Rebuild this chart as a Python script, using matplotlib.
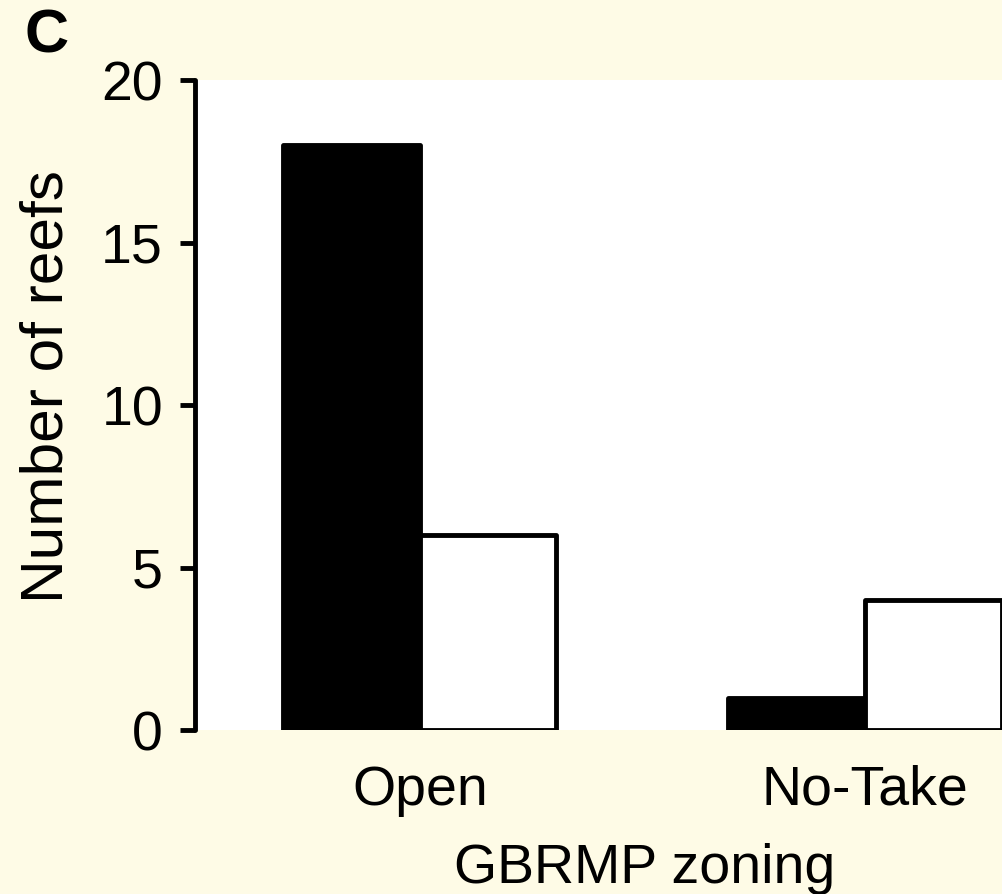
import matplotlib
matplotlib.use("Agg")
import matplotlib.pyplot as plt
import numpy as np

categories = ["Open", "No-Take"]
series_black = [18, 1]
series_white = [6, 4]
yticks = [0, 5, 10, 15, 20]

plt.rcParams['font.family'] = ['Liberation Sans', 'DejaVu Sans']

fig = plt.figure(figsize=(10.03, 8.94), dpi=100)
fig.patch.set_facecolor('#FEFBE6')
ax = fig.add_axes([0.1944, 0.1834, 0.8056, 0.7271])
ax.set_facecolor('white')

x = np.arange(len(categories))
w = 0.307
ax.bar(x - w/2, series_black, width=w, color='black', edgecolor='black', linewidth=3.5, joinstyle='round')
ax.bar(x + w/2, series_white, width=w, color='white', edgecolor='black', linewidth=3.5, joinstyle='round')

ax.set_xlim(-0.505, 1.31)
ax.set_ylim(0, 20)
ax.set_yticks(yticks)
ax.set_xticks(x)
ax.set_xticklabels(categories)

for s in ['top', 'right', 'bottom']:
    ax.spines[s].set_visible(False)
ax.spines['left'].set_linewidth(3.5)
ax.spines['left'].set_capstyle('round')

ax.tick_params(axis='y', direction='out', length=11, width=3.5, labelsize=40, pad=12)
ax.tick_params(axis='x', length=0, labelsize=40, pad=25)

ax.set_ylabel("Number of reefs", fontsize=43.5, labelpad=19)
ax.yaxis.label.set_y(0.528)
ax.set_xlabel("GBRMP zoning", fontsize=40, labelpad=19)
ax.xaxis.label.set_x(0.557)

fig.text(0.024, 0.99, "C", fontsize=44, fontweight='bold', va='top', ha='left')

fig.savefig("out.png", dpi=100, facecolor=fig.get_facecolor())
